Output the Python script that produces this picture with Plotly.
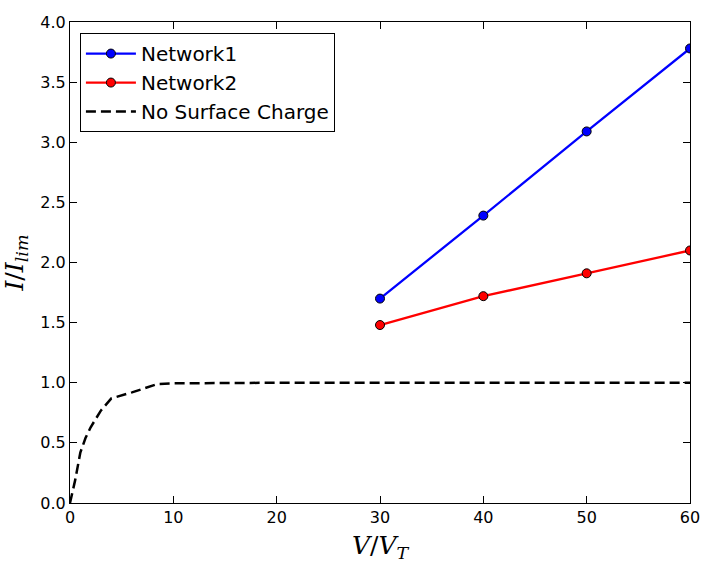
import plotly.graph_objects as go

# data
v_net = [30, 40, 50, 60]
i_net1 = [1.70, 2.39, 3.09, 3.78]
i_net2 = [1.48, 1.72, 1.91, 2.10]

v_nosc = [0, 0.25, 0.5, 1, 1.5, 2, 2.5, 3, 4, 6, 8.5, 10, 20, 30, 40, 50, 60]
i_nosc = [0, 0.10, 0.19, 0.42, 0.54, 0.63, 0.70, 0.77, 0.87, 0.92, 0.99, 0.995,
          1.0, 1.0, 1.0, 1.0, 1.0]

fig = go.Figure()

fig.add_trace(go.Scatter(
    x=v_net, y=i_net1, mode='lines+markers', name='Network1',
    line=dict(color='blue', width=2.3),
    marker=dict(size=9, color='blue', line=dict(color='black', width=1))
))
fig.add_trace(go.Scatter(
    x=v_net, y=i_net2, mode='lines+markers', name='Network2',
    line=dict(color='red', width=2.3),
    marker=dict(size=9, color='red', line=dict(color='black', width=1))
))
fig.add_trace(go.Scatter(
    x=v_nosc, y=i_nosc, mode='lines', name='No Surface Charge',
    line=dict(color='black', width=2.5, dash='10px,5px')
))

axis_style = dict(
    showgrid=False, zeroline=False, showline=True, linecolor='black',
    linewidth=1, mirror='ticks', ticks='inside', ticklen=7, tickcolor='black',
    tickfont=dict(family='DejaVu Sans', size=16, color='black'),
    automargin=False,
)

fig.update_layout(
    width=712, height=563,
    margin=dict(l=70, r=22, t=22, b=60),
    paper_bgcolor='white', plot_bgcolor='white',
    font=dict(family='DejaVu Sans', color='black'),
    xaxis=dict(range=[0, 60], dtick=10, **axis_style,
               title=dict(text='<i>V</i>/<i>V<sub>T</sub></i>', standoff=10,
                          font=dict(family='DejaVu Serif', size=25))),
    yaxis=dict(range=[0, 4], dtick=0.5, tickformat='.1f', **axis_style,
               title=dict(text='<i>I</i>/<i>I<sub>lim</sub></i>', standoff=9,
                          font=dict(family='DejaVu Serif', size=25))),
    legend=dict(x=0.016, y=0.977, xanchor='left', yanchor='top',
                bgcolor='white', bordercolor='black', borderwidth=1,
                font=dict(size=20), tracegroupgap=2, itemwidth=50),
    showlegend=True,
)

# drop the default 8px page margin so the figure sits at the window corner
fig.write_html("out.html", config={'displayModeBar': False},
               post_script="document.body.style.margin='0';")
